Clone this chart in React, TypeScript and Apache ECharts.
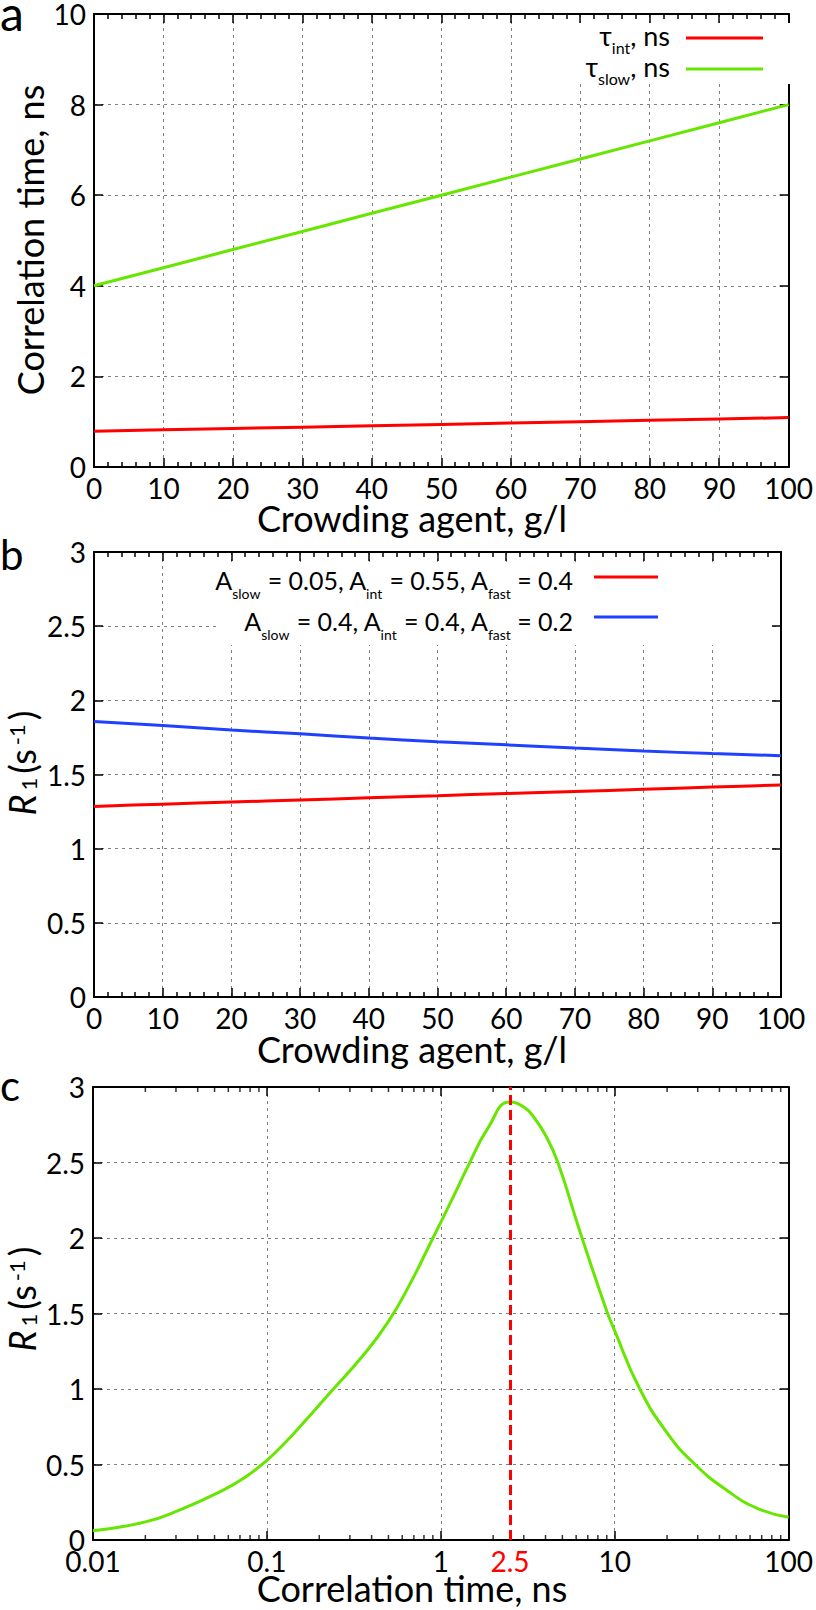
import React, { useEffect, useRef } from "react";
import * as echarts from "echarts";

// ---------- data ----------
const crowding = [0, 10, 20, 30, 40, 50, 60, 70, 80, 90, 100];
const tauInt = [0.79, 0.82, 0.85, 0.88, 0.91, 0.94, 0.97, 1.0, 1.03, 1.06, 1.09];
const tauSlow = [4.0, 4.4, 4.8, 5.2, 5.6, 6.0, 6.4, 6.8, 7.2, 7.6, 8.0];

const r1Red = [1.285, 1.3, 1.314, 1.328, 1.343, 1.357, 1.372, 1.386, 1.4, 1.415, 1.43];
const r1Blue = [1.858, 1.83, 1.8, 1.774, 1.746, 1.721, 1.7, 1.678, 1.658, 1.641, 1.627];

const corrTime = [0.01, 0.02, 0.0324, 0.0525, 0.075, 0.1, 0.13, 0.157, 0.23, 0.359, 0.5, 0.665, 0.875, 1.235, 1.417, 1.862, 2.5, 3, 3.46, 4, 4.71, 6.2, 8.91, 10, 13.8, 20, 29, 44, 66, 100];
const r1Curve = [0.062, 0.12, 0.205, 0.314, 0.416, 0.528, 0.656, 0.758, 0.974, 1.225, 1.448, 1.696, 1.97, 2.32, 2.464, 2.726, 2.9, 2.867, 2.793, 2.68, 2.5, 2.07, 1.53, 1.385, 1.01, 0.71, 0.5, 0.33, 0.21, 0.15];
const markTime = 2.5;
const logMinorTicks = [
  0.02, 0.03, 0.04, 0.05, 0.06, 0.07, 0.08, 0.09,
  0.2, 0.3, 0.4, 0.5, 0.6, 0.7, 0.8, 0.9,
  2, 3, 4, 5, 6, 7, 8, 9,
  20, 30, 40, 50, 60, 70, 80, 90,
];

// ---------- styles ----------
const FONT = 'Lato, "DejaVu Sans", sans-serif';
const RED = "#ff0000";
const GREEN = "#66e600";
const BLUE = "#2040ff";
const TICK_FS = 28;
const TITLE_FS = 36;
const GRIDLINE = { color: "#808080", width: 1, type: [3, 4] as any };

const zip = (xs: number[], ys: number[]) => xs.map((x, i) => [x, ys[i]]);

function xAxisCfg(gridIndex: number, position: "top" | "bottom", extra: any) {
  const bottom = position === "bottom";
  return {
    gridIndex,
    position,
    axisLine: { show: true, onZero: false, lineStyle: { color: "#000", width: 2 } },
    axisTick: { show: true, inside: true, length: 9, lineStyle: { color: "#000", width: 1.5 } },
    axisLabel: {
      show: bottom,
      color: "#000",
      fontFamily: FONT,
      fontSize: TICK_FS,
      margin: 7,
    },
    splitLine: { show: bottom, lineStyle: GRIDLINE },
    ...extra,
  };
}

function yAxisCfg(gridIndex: number, position: "left" | "right", extra: any) {
  const left = position === "left";
  return {
    type: "value",
    gridIndex,
    position,
    axisLine: { show: true, onZero: false, lineStyle: { color: "#000", width: 2 } },
    axisTick: { show: true, inside: true, length: 9, lineStyle: { color: "#000", width: 1.5 } },
    axisLabel: {
      show: left,
      color: "#000",
      fontFamily: FONT,
      fontSize: TICK_FS,
      lineHeight: 22,
      margin: 8,
    },
    splitLine: { show: left, lineStyle: GRIDLINE },
    ...extra,
  };
}

const linearX = (gridIndex: number, position: "top" | "bottom") =>
  xAxisCfg(gridIndex, position, {
    type: "value",
    min: 0,
    max: 100,
    interval: 10,
    minorTick: { show: true, splitNumber: 5, length: 5, lineStyle: { color: "#000", width: 1.5 } },
  });

const logX = (gridIndex: number, position: "top" | "bottom") =>
  xAxisCfg(gridIndex, position, {
    type: "log",
    logBase: 10,
    min: 0.01,
    max: 100,
  });

const richA = {
  m: { fontFamily: FONT, fontSize: 27, lineHeight: 40, verticalAlign: "middle", color: "#000" },
  s: { fontFamily: FONT, fontSize: 16, lineHeight: 12, verticalAlign: "bottom", color: "#000" },
};
const richB = {
  m: { fontFamily: FONT, fontSize: 25, lineHeight: 40, verticalAlign: "middle", color: "#000" },
  s: { fontFamily: FONT, fontSize: 14, lineHeight: 12, verticalAlign: "bottom", color: "#000" },
};

const richR1 = {
  ri: { fontFamily: FONT, fontSize: 36, fontStyle: "italic", lineHeight: 34, verticalAlign: "middle", color: "#000", padding: [0, 2, 0, 0] },
  rm: { fontFamily: FONT, fontSize: 36, lineHeight: 34, verticalAlign: "middle", color: "#000", padding: [0, 2] },
  rs: { fontFamily: FONT, fontSize: 22, lineHeight: 8, verticalAlign: "bottom", color: "#000", padding: [0, 2] },
  rp: { fontFamily: FONT, fontSize: 22, lineHeight: 8, verticalAlign: "top", color: "#000", padding: [0, 2] },
};

function legendLine(x1: number, x2: number, y: number, color: string) {
  return { type: "line", z: 5, shape: { x1, y1: y, x2, y2: y }, style: { stroke: color, lineWidth: 3 } };
}
function legendText(x: number, y: number, text: string, rich: any) {
  return {
    type: "text",
    z: 5,
    x,
    y,
    style: { text, rich, align: "right", verticalAlign: "middle", fill: "#000" },
  };
}
function plainText(x: number, y: number, text: string, size: number, rotation = 0, extra: any = {}) {
  return {
    type: "text",
    z: 5,
    x,
    y,
    rotation,
    style: { text, fontFamily: FONT, fontSize: size, fill: "#000", align: "center", verticalAlign: "middle", ...extra },
  };
}
function r1Title(y: number) {
  return {
    type: "text",
    z: 5,
    x: 22,
    y,
    rotation: Math.PI / 2,
    style: { text: "{ri|R}{rs|1}{rm|(s}{rp|-1}{rm|)}", rich: richR1, align: "center", verticalAlign: "middle" },
  };
}

export default function App() {
  const ref = useRef<HTMLDivElement>(null);

  useEffect(() => {
    if (!ref.current) return;
    const chart = echarts.init(ref.current, undefined, { renderer: "svg" });

    const option: any = {
      animation: false,
      backgroundColor: "#fff",
      grid: [
        { left: 94, top: 13, width: 698, height: 454 },
        { left: 94, top: 552, width: 687, height: 445 },
        { left: 93, top: 1087, width: 698, height: 453 },
      ],
      xAxis: [
        linearX(0, "bottom"),
        linearX(0, "top"),
        linearX(1, "bottom"),
        linearX(1, "top"),
        {
          ...logX(2, "bottom"),
          axisLabel: {
            show: true,
            color: "#000",
            fontFamily: FONT,
            fontSize: TICK_FS,
            margin: 7,
            formatter: (v: number) => String(Number(v.toPrecision(6))),
          },
        },
        logX(2, "top"),
      ],
      yAxis: [
        yAxisCfg(0, "left", { min: 0, max: 10, interval: 2 }),
        yAxisCfg(0, "right", { min: 0, max: 10, interval: 2 }),
        yAxisCfg(1, "left", { min: 0, max: 3, interval: 0.5 }),
        yAxisCfg(1, "right", { min: 0, max: 3, interval: 0.5 }),
        yAxisCfg(2, "left", { min: 0, max: 3, interval: 0.5 }),
        yAxisCfg(2, "right", { min: 0, max: 3, interval: 0.5 }),
      ],
      series: [
        {
          name: "τint, ns",
          type: "line",
          xAxisIndex: 0,
          yAxisIndex: 0,
          data: zip(crowding, tauInt),
          showSymbol: false,
          lineStyle: { color: RED, width: 3 },
          itemStyle: { color: RED },
        },
        {
          name: "τslow, ns",
          type: "line",
          xAxisIndex: 0,
          yAxisIndex: 0,
          data: zip(crowding, tauSlow),
          showSymbol: false,
          lineStyle: { color: GREEN, width: 3 },
          itemStyle: { color: GREEN },
        },
        {
          name: "Aslow = 0.05, Aint = 0.55, Afast = 0.4",
          type: "line",
          xAxisIndex: 2,
          yAxisIndex: 2,
          data: zip(crowding, r1Red),
          showSymbol: false,
          smooth: 0.3,
          lineStyle: { color: RED, width: 3 },
          itemStyle: { color: RED },
        },
        {
          name: "Aslow = 0.4, Aint = 0.4, Afast = 0.2",
          type: "line",
          xAxisIndex: 2,
          yAxisIndex: 2,
          data: zip(crowding, r1Blue),
          showSymbol: false,
          smooth: 0.3,
          lineStyle: { color: BLUE, width: 3 },
          itemStyle: { color: BLUE },
        },
        {
          name: "R1 vs correlation time",
          type: "line",
          xAxisIndex: 4,
          yAxisIndex: 4,
          data: zip(corrTime, r1Curve),
          showSymbol: false,
          smooth: 0.5,
          lineStyle: { color: GREEN, width: 3 },
          itemStyle: { color: GREEN },
          markLine: {
            silent: true,
            symbol: ["none", "none"],
            lineStyle: { color: RED, type: [10, 5], width: 3 },
            label: {
              show: true,
              position: "start",
              formatter: String(markTime),
              color: RED,
              fontFamily: FONT,
              fontSize: TICK_FS,
              distance: 7,
            },
            data: [{ xAxis: markTime }],
          },
        },
        {
          type: "scatter",
          xAxisIndex: 4,
          yAxisIndex: 4,
          silent: true,
          clip: false,
          symbol: "rect",
          symbolSize: [1.5, 5],
          symbolOffset: [0, -2.5],
          itemStyle: { color: "#000" },
          data: logMinorTicks.map((t) => [t, 0]),
        },
        {
          type: "scatter",
          xAxisIndex: 4,
          yAxisIndex: 4,
          silent: true,
          clip: false,
          symbol: "rect",
          symbolSize: [1.5, 5],
          symbolOffset: [0, 2.5],
          itemStyle: { color: "#000" },
          data: logMinorTicks.map((t) => [t, 3]),
        },
      ],
      graphic: [
        // legend masks
        { type: "rect", z: 1, shape: { x: 562, y: 23, width: 228, height: 61 }, style: { fill: "#fff" } },
        { type: "rect", z: 1, shape: { x: 219, y: 562, width: 553, height: 83 }, style: { fill: "#fff" } },
        // legend a
        legendText(670, 35, "{m|τ}{s|int}{m|, ns}", richA),
        legendLine(686, 763, 38, RED),
        legendText(670, 66, "{m|τ}{s|slow}{m|, ns}", richA),
        legendLine(686, 763, 69, GREEN),
        // legend b
        legendText(573, 580, "{m|A}{s|slow}{m| = 0.05, A}{s|int}{m| = 0.55, A}{s|fast}{m| = 0.4}", richB),
        legendLine(594, 658, 577, RED),
        legendText(573, 621, "{m|A}{s|slow}{m| = 0.4, A}{s|int}{m| = 0.4, A}{s|fast}{m| = 0.2}", richB),
        legendLine(594, 658, 617, BLUE),
        // panel letters
        plainText(0, 12, "a", 48, 0, { align: "left", lineHeight: 24 }),
        plainText(0, 554, "b", 42, 0, { align: "left", lineHeight: 30 }),
        plainText(0, 1085, "c", 42, 0, { align: "left", lineHeight: 30 }),
        // x titles
        plainText(412, 518, "Crowding agent, g/l", TITLE_FS),
        plainText(412, 1049, "Crowding agent, g/l", TITLE_FS),
        plainText(412, 1588, "Correlation time, ns", TITLE_FS),
        // y titles
        plainText(30, 240, "Correlation time, ns", TITLE_FS, Math.PI / 2),
        r1Title(762),
        r1Title(1298),
      ],
    };

    chart.setOption(option);
    return () => chart.dispose();
  }, []);

  return (
    <div
      ref={ref}
      style={{ position: "absolute", left: 0, top: 0, width: 816, height: 1610, background: "#fff" }}
    />
  );
}
